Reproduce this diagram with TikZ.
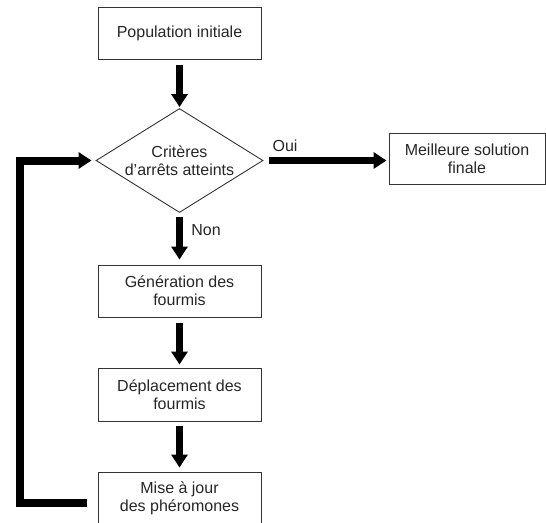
\documentclass[tikz,border=0pt]{standalone}
\usepackage{fontspec}
\setmainfont{Liberation Sans}
\usetikzlibrary{arrows.meta,shapes.geometric}

\begin{document}
\begin{tikzpicture}[x=1pt,y=-1pt,
        texte/.style={font=\fontsize{16}{18}\selectfont,text=black!85},
        boite/.style={texte,draw=black!80,line width=0.9pt,minimum width=163pt,minimum height=52pt,align=center},
        choix/.style={texte,draw=black!80,line width=0.9pt,shape=diamond,aspect=1.6,inner sep=0pt,minimum width=167pt,minimum height=104pt,align=center},
        fleche/.style={line width=7.5pt,-{Triangle[width=16pt,length=13pt]},shorten <=5pt,shorten >=3pt},
        retour/.style={fleche,line width=8pt,line join=miter,shorten <=0pt}]
        \useasboundingbox (0,0) rectangle (546,522);
        \clip (0,0) rectangle (546,522);
        \node [boite] (pop) at (179.5,33.5) {Population initiale};
        \node [choix] (crit) at (179.5,160.5) {Critères\\d'arrêts atteints};
        \node [boite,minimum width=156pt,minimum height=51pt] (best) at (467,158.5) {Meilleure solution\\finale};
        \node [boite] (gen) at (179.5,291) {Génération des\\fourmis};
        \node [boite,minimum height=53pt] (dep) at (179.5,394.5) {Déplacement des\\fourmis};
        \node [boite] (maj) at (179.5,498) {Mise à jour\\des phéromones};
        \node [texte] (oui) at (285,146) {Oui};
        \node [texte] (non) at (206,230) {Non};
        \draw [fleche,shorten >=1pt] (pop.south) -- (crit.north);
        \draw [fleche,shorten <=6pt,shorten >=2pt] (crit.east) -- (crit.east -| best.west);
        \draw [fleche,shorten <=4.5pt,shorten >=5pt] (crit.south) -- (gen.north);
        \draw [fleche,shorten <=6pt] (gen.south) -- (dep.north);
        \draw [fleche,shorten >=4pt] (dep.south) -- (maj.north);
        \draw [retour,shorten >=4pt] ([xshift=-11pt,yshift=-5pt]maj.west) -- ++(-67,0) |- (crit.west);
\end{tikzpicture}
\end{document}
